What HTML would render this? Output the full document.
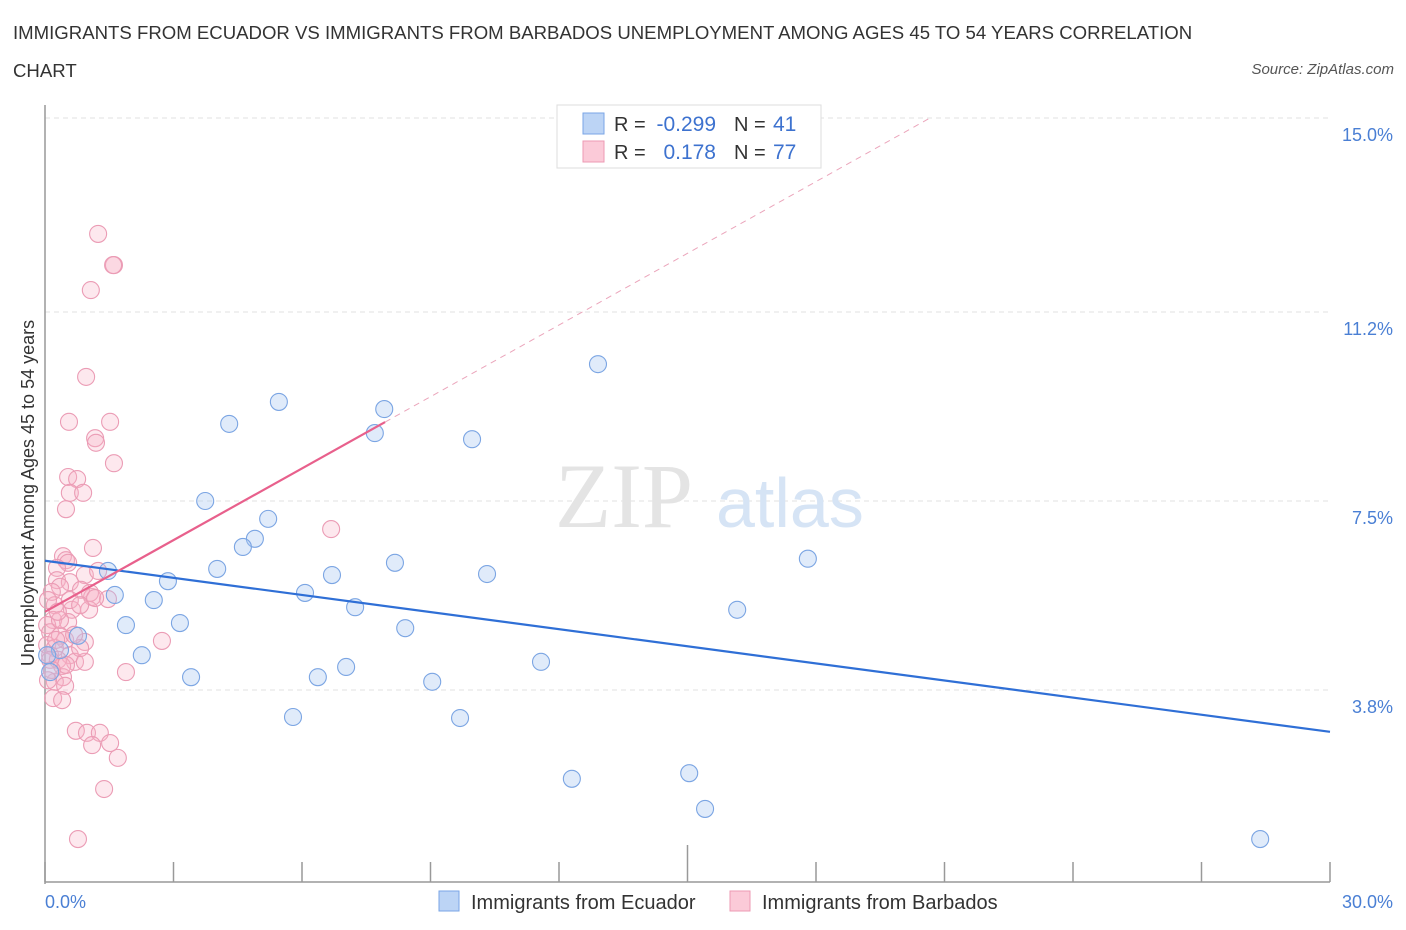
<!DOCTYPE html>
<html><head><meta charset="utf-8"><style>
body{margin:0;background:#fff;font-family:"Liberation Sans",sans-serif;}
#wrap{position:relative;width:1406px;height:930px;overflow:hidden;}
.t{position:absolute;color:#333;}
</style></head><body>
<div id="wrap">
<div class="t" style="left:13px;top:14px;font-size:18.6px;line-height:38px;width:1200px;">IMMIGRANTS FROM ECUADOR VS IMMIGRANTS FROM BARBADOS UNEMPLOYMENT AMONG AGES 45 TO 54 YEARS CORRELATION CHART</div>
<div class="t" style="right:12px;top:61px;font-size:15px;font-style:italic;color:#555;">Source: ZipAtlas.com</div>
<svg id="svg" width="1406" height="930" style="position:absolute;left:0;top:0"></svg>
</div>
<script>
const yTicks=[15.0,11.2,7.5,3.8];
const yTickLabels=["15.0%","11.2%","7.5%","3.8%"];
const ecuadorX=[12.91,5.46,7.92,4.30,7.70,9.97,3.74,5.21,4.90,4.62,17.81,8.17,4.02,6.70,10.32,1.47,2.87,1.63,6.07,2.54,7.24,16.16,1.89,3.15,8.41,0.77,2.26,11.58,7.03,3.41,6.37,9.04,0.12,5.79,9.69,12.30,15.04,15.41,28.37,0.35,0.05];
const ecuadorY=[10.18,9.44,9.30,9.01,8.83,8.71,7.50,7.15,6.76,6.60,6.37,6.29,6.17,6.05,6.07,6.13,5.93,5.66,5.70,5.56,5.42,5.37,5.07,5.11,5.01,4.86,4.48,4.35,4.25,4.05,4.05,3.96,4.15,3.27,3.25,2.06,2.17,1.47,0.88,4.58,4.48];
const barbadosX=[1.24,1.61,1.59,1.07,0.96,0.56,1.52,1.17,1.19,1.61,0.54,0.75,0.58,0.89,0.49,6.68,1.12,0.42,0.49,0.54,0.28,0.93,1.24,0.28,0.58,0.35,0.84,0.16,1.10,1.05,1.47,0.23,0.63,1.03,0.19,0.54,0.05,0.12,0.35,0.47,0.93,2.73,0.05,0.23,0.12,0.58,0.30,0.70,0.93,0.40,1.89,0.42,0.23,0.47,0.19,0.72,0.98,1.28,1.10,1.52,1.70,1.38,0.77,0.12,0.07,0.26,0.35,0.58,0.82,0.49,0.16,0.68,0.30,0.82,0.07,0.40,1.17];
const barbadosY=[12.73,12.12,12.12,11.63,9.93,9.05,9.05,8.73,8.64,8.24,7.97,7.93,7.66,7.66,7.34,6.95,6.58,6.42,6.34,6.29,6.19,6.05,6.13,5.95,5.91,5.82,5.76,5.72,5.62,5.70,5.58,5.46,5.37,5.37,5.17,5.13,5.07,4.93,4.86,4.78,4.74,4.76,4.68,4.62,4.48,4.48,4.39,4.35,4.35,4.27,4.15,4.05,3.96,3.88,3.64,3.00,2.96,2.96,2.72,2.76,2.47,1.86,0.88,4.39,5.56,4.78,5.17,5.56,4.62,4.29,4.19,4.88,5.33,5.46,3.99,3.60,5.60];
const ecuadorTrend=[6.33,2.98];
const barbadosTrend=[5.33,0.468];
const NS="http://www.w3.org/2000/svg";
const svg=document.getElementById('svg');
const X=v=>45+v*(1285/30);
const Y=v=>884-v*(766/15);
function mk(tag,attrs,parent){const e=document.createElementNS(NS,tag);for(const k in attrs)e.setAttribute(k,attrs[k]);(parent||svg).appendChild(e);return e;}
yTicks.forEach((t,i)=>{
 const g=mk('line',{x1:45,x2:1330,y1:Y(t),y2:Y(t),stroke:'#e2e2e2','stroke-dasharray':'5,4'});
 
 
 const tx=mk('text',{x:1393,y:Y(t)+23,'text-anchor':'end','font-size':18,fill:'#4a7fd4','font-family':'Liberation Sans'});
 tx.textContent=yTickLabels[i];
 
 
});
const ya=mk('line',{x1:45,x2:45,y1:105,y2:884,stroke:'#999','stroke-width':1.5});


const xa=mk('line',{x1:45,x2:1330,y1:882,y2:882,stroke:'#999','stroke-width':1.5});


for(let i=0;i<=10;i++){
 const x=X(i*3);
 const tk=mk('line',{x1:x,x2:x,y1:i==5?845:862,y2:882,stroke:'#999','stroke-width':1.5});
 
 
}
const xl0=mk('text',{x:45,y:908,'font-size':18,fill:'#4a7fd4','font-family':'Liberation Sans'});xl0.textContent='0.0%';


const xl1=mk('text',{x:1393,y:908,'text-anchor':'end','font-size':18,fill:'#4a7fd4','font-family':'Liberation Sans'});xl1.textContent='30.0%';


const yt=mk('text',{x:0,y:0,'font-size':18,fill:'#333','text-anchor':'middle','font-family':'Liberation Sans',transform:'translate(34,493) rotate(-90)'});yt.textContent='Unemployment Among Ages 45 to 54 years';


const wm=mk('text',{x:555,y:527,'font-size':92,fill:'#e4e4e4','font-family':'Liberation Serif'});wm.textContent='ZIP';


const wm2=mk('text',{x:716,y:527,'font-size':70,fill:'#d6e4f5','font-family':'Liberation Sans'});wm2.textContent='atlas';


barbadosX.forEach((v,i)=>{
 const c=mk('circle',{cx:X(v),cy:Y(barbadosY[i]),r:8.5,fill:'rgba(248,180,200,0.3)',stroke:'#eb9cb5','stroke-width':1.1});
 
 
});
ecuadorX.forEach((v,i)=>{
 const c=mk('circle',{cx:X(v),cy:Y(ecuadorY[i]),r:8.5,fill:'rgba(165,198,240,0.35)',stroke:'#7ba5e3','stroke-width':1.1});
 
 
});
const bl=mk('line',{x1:X(0),y1:Y(ecuadorTrend[0]),x2:X(30),y2:Y(ecuadorTrend[1]),stroke:'#2f6fd6','stroke-width':2.2});


const pEnd=7.94, pDash=(15-barbadosTrend[0])/barbadosTrend[1];
const pl=mk('line',{x1:X(0),y1:Y(barbadosTrend[0]),x2:X(pEnd),y2:Y(barbadosTrend[0]+barbadosTrend[1]*pEnd),stroke:'#e8608c','stroke-width':2.2});


const pd=mk('line',{x1:X(pEnd),y1:Y(barbadosTrend[0]+barbadosTrend[1]*pEnd),x2:X(pDash),y2:Y(15),stroke:'#eba5bb','stroke-width':1,'stroke-dasharray':'6,5'});


const lg=mk('rect',{x:557,y:105,width:264,height:63,fill:'#fff',stroke:'#ddd'});


function row(y,fill,stroke,r,n,name){
 const s=mk('rect',{x:583,y:y-10,width:21,height:21,fill:fill,stroke:stroke});
 
 
 const t1=mk('text',{x:614,y:y+8,'font-size':20,fill:'#333','font-family':'Liberation Sans'});t1.textContent='R =';
 const t2=mk('text',{x:716,y:y+8,'font-size':21,fill:'#3d72cf','text-anchor':'end','font-family':'Liberation Sans'});t2.textContent=r;
 
 
 const t3=mk('text',{x:734,y:y+8,'font-size':20,fill:'#333','font-family':'Liberation Sans'});t3.textContent='N =';
 const t4=mk('text',{x:773,y:y+8,'font-size':21,fill:'#3d72cf','font-family':'Liberation Sans'});t4.textContent=n;
 
 
}
row(123,'#bcd4f5','#7aa5e6','-0.299','41','ecuador');
row(151,'#fbcad8','#ec9ab3','0.178','77','barbados');
function leg(x,fill,stroke,label,name){
 const s=mk('rect',{x:x,y:891,width:20,height:20,fill:fill,stroke:stroke});
 
 
 const t=mk('text',{x:x+32,y:909,'font-size':20,fill:'#333','font-family':'Liberation Sans'});t.textContent=label;
 
 
}
leg(439,'#bcd4f5','#7aa5e6','Immigrants from Ecuador','ecuador');
leg(730,'#fbcad8','#ec9ab3','Immigrants from Barbados','barbados');
</script>
</body></html>
